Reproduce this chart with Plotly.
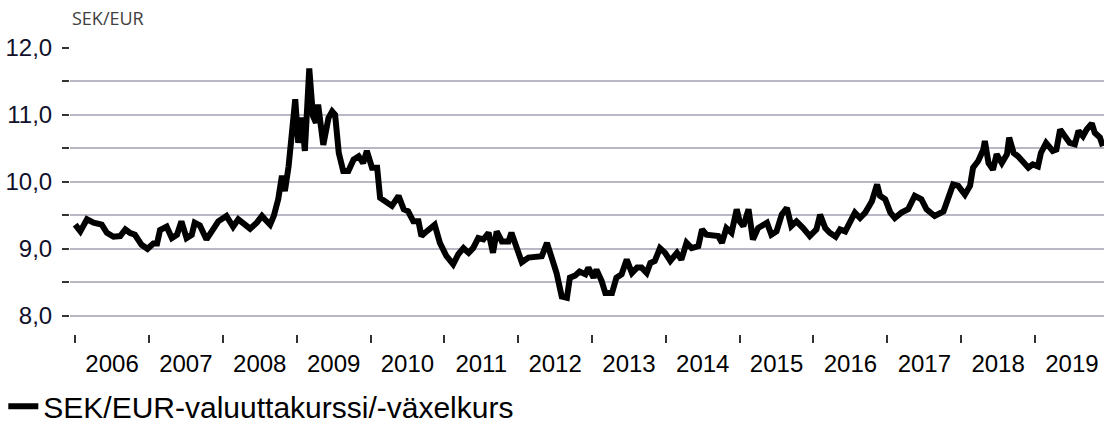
import plotly.graph_objects as go
import pandas as pd

# decimal-year positions and SEK/EUR values
t = [2006.00, 2006.07, 2006.16, 2006.25, 2006.36, 2006.43, 2006.52, 2006.61, 2006.68, 2006.74,
     2006.81, 2006.90, 2006.98, 2007.06, 2007.11, 2007.15, 2007.24, 2007.31, 2007.38, 2007.44,
     2007.51, 2007.58, 2007.62, 2007.69, 2007.78, 2007.85, 2007.94, 2008.05, 2008.14, 2008.21,
     2008.28, 2008.37, 2008.46, 2008.53, 2008.57, 2008.64, 2008.69, 2008.75, 2008.80, 2008.84,
     2008.89, 2008.92, 2008.95, 2008.98, 2009.02, 2009.07, 2009.11, 2009.15, 2009.17, 2009.22,
     2009.26, 2009.29, 2009.36, 2009.43, 2009.48, 2009.52, 2009.57, 2009.63, 2009.70, 2009.77,
     2009.84, 2009.90, 2009.95, 2010.02, 2010.09, 2010.13, 2010.22, 2010.29, 2010.38, 2010.45,
     2010.51, 2010.58, 2010.65, 2010.69, 2010.76, 2010.87, 2010.94, 2011.03, 2011.12, 2011.19,
     2011.26, 2011.33, 2011.39, 2011.46, 2011.53, 2011.60, 2011.66, 2011.71, 2011.78, 2011.87,
     2011.91, 2011.98, 2012.05, 2012.14, 2012.23, 2012.32, 2012.39, 2012.45, 2012.52, 2012.59,
     2012.66, 2012.70, 2012.77, 2012.83, 2012.91, 2012.95, 2013.02, 2013.06, 2013.13, 2013.18,
     2013.27, 2013.33, 2013.40, 2013.47, 2013.54, 2013.61, 2013.67, 2013.74, 2013.79, 2013.85,
     2013.92, 2013.99, 2014.06, 2014.15, 2014.21, 2014.28, 2014.35, 2014.44, 2014.49, 2014.55,
     2014.64, 2014.71, 2014.76, 2014.82, 2014.89, 2014.96, 2015.00, 2015.05, 2015.12, 2015.18,
     2015.25, 2015.37, 2015.43, 2015.50, 2015.57, 2015.64, 2015.70, 2015.77, 2015.86, 2015.95,
     2016.04, 2016.09, 2016.16, 2016.22, 2016.30, 2016.36, 2016.43, 2016.49, 2016.56, 2016.63,
     2016.70, 2016.79, 2016.86, 2016.90, 2016.97, 2017.04, 2017.10, 2017.19, 2017.28, 2017.37,
     2017.46, 2017.53, 2017.64, 2017.76, 2017.82, 2017.89, 2017.96, 2018.05, 2018.12, 2018.16,
     2018.23, 2018.30, 2018.32, 2018.37, 2018.43, 2018.48, 2018.55, 2018.62, 2018.65, 2018.71,
     2018.77, 2018.84, 2018.91, 2018.97, 2019.04, 2019.08, 2019.15, 2019.24, 2019.29, 2019.34,
     2019.41, 2019.47, 2019.54, 2019.59, 2019.65, 2019.70, 2019.77, 2019.81, 2019.88, 2019.92]

sek_eur = [9.36, 9.26, 9.44, 9.39, 9.36, 9.24, 9.18, 9.19, 9.29, 9.24,
           9.21, 9.06, 9.00, 9.08, 9.08, 9.28, 9.33, 9.16, 9.21, 9.41,
           9.16, 9.21, 9.39, 9.35, 9.14, 9.26, 9.41, 9.49, 9.33, 9.44,
           9.39, 9.30, 9.39, 9.49, 9.44, 9.36, 9.49, 9.74, 10.09, 9.86,
           10.23, 10.53, 10.98, 11.23, 10.58, 10.96, 10.46, 11.18, 11.69, 10.98,
           10.88, 11.15, 10.55, 10.95, 11.05, 11.00, 10.43, 10.16, 10.16, 10.33,
           10.38, 10.28, 10.46, 10.21, 10.21, 9.76, 9.69, 9.64, 9.79, 9.59,
           9.56, 9.41, 9.41, 9.19, 9.26, 9.36, 9.09, 8.89, 8.77, 8.92,
           9.01, 8.94, 9.01, 9.16, 9.14, 9.24, 8.94, 9.26, 9.11, 9.11,
           9.24, 8.99, 8.80, 8.87, 8.87, 8.89, 9.09, 8.87, 8.64, 8.29,
           8.27, 8.57, 8.60, 8.66, 8.62, 8.72, 8.57, 8.69, 8.52, 8.34,
           8.34, 8.57, 8.62, 8.84, 8.64, 8.72, 8.72, 8.64, 8.79, 8.82,
           9.01, 8.94, 8.82, 8.94, 8.84, 9.09, 9.01, 9.04, 9.29, 9.21,
           9.19, 9.19, 9.09, 9.31, 9.24, 9.59, 9.41, 9.34, 9.59, 9.14,
           9.31, 9.39, 9.21, 9.26, 9.51, 9.61, 9.34, 9.41, 9.31, 9.19,
           9.29, 9.51, 9.31, 9.24, 9.18, 9.29, 9.26, 9.41, 9.54, 9.46,
           9.54, 9.71, 9.96, 9.79, 9.74, 9.54, 9.46, 9.54, 9.59, 9.79,
           9.74, 9.59, 9.49, 9.56, 9.74, 9.96, 9.94, 9.81, 9.94, 10.21,
           10.31, 10.48, 10.61, 10.28, 10.18, 10.41, 10.28, 10.41, 10.66, 10.43,
           10.38, 10.31, 10.21, 10.26, 10.23, 10.43, 10.58, 10.46, 10.48, 10.78,
           10.68, 10.58, 10.56, 10.76, 10.68, 10.78, 10.87, 10.73, 10.66, 10.53]

y_ticks = [8.0, 8.5, 9.0, 9.5, 10.0, 10.5, 11.0, 11.5, 12.0]
y_labels = ["8,0", "", "9,0", "", "10,0", "", "11,0", "", "12,0"]
x_range_years = [2005.93, 2019.935]

series_name = "SEK/EUR-valuuttakurssi/-växelkurs"
unit_label = "SEK/EUR"


def to_date(dec):
    yr = int(dec)
    start = pd.Timestamp(year=yr, month=1, day=1)
    end = pd.Timestamp(year=yr + 1, month=1, day=1)
    return start + (end - start) * (dec - yr)


dates = [to_date(d) for d in t]
x_range = [to_date(d) for d in x_range_years]

fig = go.Figure()
fig.add_trace(go.Scatter(
    x=dates, y=sek_eur, mode="lines", name=series_name,
    line=dict(color="#000000", width=6),
    showlegend=True,
))

fig.update_layout(
    width=1104, height=424,
    margin=dict(l=70, r=0, t=47, b=90),
    paper_bgcolor="white", plot_bgcolor="white",
    font=dict(family="Liberation Sans, Arial, sans-serif", color="#000000"),
    showlegend=True,
    legend=dict(
        orientation="h", xref="container", yref="container",
        x=0.003, xanchor="left", y=0.042, yanchor="middle",
        font=dict(size=30, family="Liberation Sans, Arial, sans-serif", color="#000000"),
        itemwidth=30, bgcolor="rgba(0,0,0,0)",
    ),
    xaxis=dict(
        type="date", range=x_range,
        tick0="2006-01-01", dtick="M12", tickformat="%Y", ticklabelmode="period",
        ticks="outside", ticklen=8, tickwidth=1.5, tickcolor="#333333",
        showgrid=False, zeroline=False, showline=False,
        tickfont=dict(size=24, color="#000000"),
    ),
    yaxis=dict(
        range=[7.73, 12.01],
        tickvals=y_ticks, ticktext=y_labels,
        ticks="outside", ticklen=7, tickwidth=2, tickcolor="#333333",
        ticklabelstandoff=5,
        showgrid=True, gridcolor="#b8b8c4", gridwidth=2,
        zeroline=False, showline=False,
        tickfont=dict(size=24, color="#10102a"),
    ),
    annotations=[dict(
        text=unit_label, xref="paper", yref="paper", x=0.0, y=1.101,
        xanchor="left", yanchor="middle", showarrow=False,
        font=dict(size=18, family="Open Sans, DejaVu Sans, sans-serif", color="#404040"),
    )],
)

fig.write_html(
    "out.html",
    config={"displayModeBar": False},
    post_script="document.body.style.margin='0px';document.body.style.overflow='hidden';",
)
